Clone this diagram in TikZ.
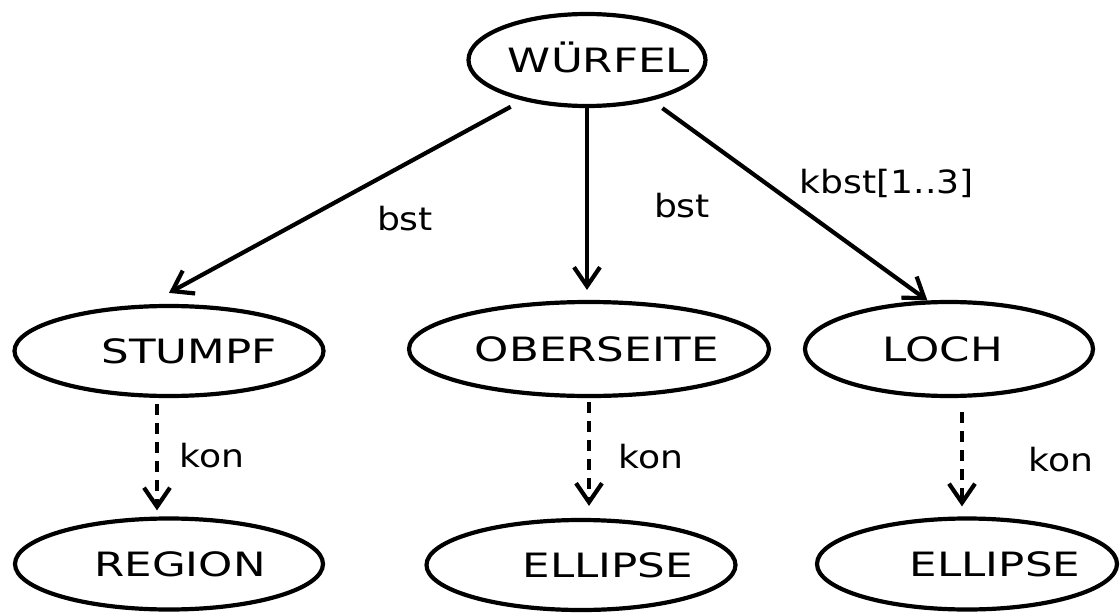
\documentclass[tikz,border=0pt]{standalone}
\usepackage{fontspec}
\newfontfamily\objfont[FakeStretch=1.3]{DejaVu Sans}
\newfontfamily\relfont[FakeStretch=1.13]{DejaVu Sans}
\usetikzlibrary{shapes.geometric}
\usetikzlibrary{arrows.meta}

\newcommand{\objtext}[2]{\makebox[0pt]{\hspace*{#1}#2}}

\begin{document}
\begin{tikzpicture}[x=1pt, y=-1pt,
    obj/.style={ellipse, draw, line width=4.2pt, inner sep=0pt, text height=24.5pt, text depth=0pt, font=\objfont\fontsize{33.5pt}{38pt}\selectfont},
    rel/.style={line width=4.2pt, -{Straight Barb[length=19pt,width=26pt]}},
    part/.style={rel, dash pattern=on 11pt off 8pt},
    lbl/.style={anchor=base, inner sep=0pt, font=\relfont\fontsize{32pt}{38pt}\selectfont}]
    \useasboundingbox (0,0) rectangle (1120,613);
    \node[obj, minimum width=237pt, minimum height=92pt] (wuerfel) at (587,60) {\objtext{24pt}{WÜRFEL}};
    \node[obj, minimum width=309pt, minimum height=90pt] (stumpf) at (169,351) {\objtext{40pt}{STUMPF}};
    \node[obj, minimum width=360pt, minimum height=94pt] (oberseite) at (589,349) {\objtext{16pt}{OBERSEITE}};
    \node[obj, minimum width=288pt, minimum height=94pt] (loch) at (949,349) {\objtext{-12pt}{LOCH}};
    \node[obj, minimum width=308pt, minimum height=91pt] (region) at (169,564) {\objtext{22pt}{REGION}};
    \node[obj, minimum width=309pt, minimum height=90pt] (ellipsemid) at (581,565) {\objtext{54pt}{ELLIPSE}};
    \node[obj, minimum width=300pt, minimum height=91pt] (ellipseright) at (967,564) {\objtext{56pt}{ELLIPSE}};

    \draw[rel, shorten <=13pt] (wuerfel.212) -- ([yshift=11pt]stumpf.north);
    \draw[rel, shorten >=10pt] (wuerfel.south) -- (wuerfel.south |- oberseite.north);
    \draw[rel, shorten <=13pt] (wuerfel.328) -- (loch.114);
    \node[lbl] (bstleft) at (405,230) {bst};
    \node[lbl] (bstmid) at (682,217) {bst};
    \node[lbl] (kbst) at (887,193) {kbst[1..3]};

    \coordinate (stumpfout) at ([xshift=-12pt]stumpf.south);
    \coordinate (lochout) at ([xshift=13pt]loch.south);
    \draw[part, shorten <=6pt, shorten >=6pt] (stumpfout) -- (stumpfout |- region.north);
    \draw[part, shorten <=4pt, shorten >=12pt] (oberseite.south) -- (oberseite.south |- ellipsemid.north);
    \draw[part, shorten <=14pt, shorten >=10pt] (lochout) -- (lochout |- ellipseright.north);
    \node[lbl] (konleft) at (212,467) {kon};
    \node[lbl] (konmid) at (651,468) {kon};
    \node[lbl] (konright) at (1061,471) {kon};
\end{tikzpicture}
\end{document}
